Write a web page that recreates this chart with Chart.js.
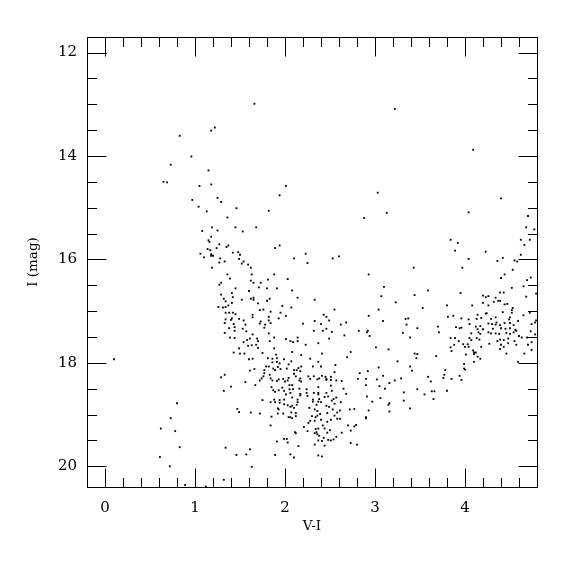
<!DOCTYPE html>
<html>
<head>
<meta charset="utf-8">
<script src="https://cdn.jsdelivr.net/npm/chart.js@4.4.0/dist/chart.umd.min.js"></script>
<style>
html, body { margin: 0; padding: 0; background: #fff; }
</style>
</head>
<body>
<canvas id="cmd" width="575" height="575"></canvas>
<script>
// [V-I, I] pairs, grouped by part of the diagram
const blueSequence = [
  [1.22,13.45],[1.18,13.51],[0.83,13.61],[0.96,14.01],[0.73,14.17],[1.15,14.28],[0.65,14.50],[0.69,14.51],[1.05,14.58],[1.18,14.55],
  [1.66,12.99],[2.01,14.58],[3.22,13.09],[4.09,13.88],
  [1.25,14.81],[1.29,14.89],[0.97,14.85],[1.04,14.98],[1.13,15.07],[1.46,15.01],[1.36,15.19],[1.08,15.45],[1.19,15.38],[1.25,15.44],
  [1.45,15.38],[1.18,15.56],[1.15,15.63],[1.16,15.66],[1.27,15.71],[1.37,15.73],[1.35,15.76],[1.24,15.78],[1.14,15.80],[1.17,15.82],
  [1.06,15.89],[1.18,15.90],[1.20,15.93],[1.10,15.96],[1.18,15.93],[1.42,15.87],[1.28,15.98],[1.27,16.06],[1.33,16.04],[1.19,16.16],
  [1.36,16.29],[1.39,16.37],[1.29,16.45],[1.27,16.49],[1.45,16.56],[1.41,16.65],[1.29,16.68],[1.32,16.76],[1.42,16.73],[1.34,16.81],
  [1.41,16.84],[1.37,16.89],[1.26,16.92],[1.31,16.93],[1.34,16.92],[1.34,17.03],[1.38,17.03],[1.42,17.03],[1.45,17.06],[1.41,17.14],
  [1.40,17.17],[1.34,17.16],[1.33,17.23],[1.43,17.25],[1.38,17.33],[1.44,17.31],[1.33,17.42],[1.44,17.38],
  [1.39,17.51],[1.44,17.52],[1.43,17.80],[0.10,17.93],[1.33,18.23],[1.29,18.28],[1.40,18.46],[1.32,18.54],[1.47,18.89],[0.80,18.78],
  [0.73,19.07],[0.62,19.27],[0.78,19.32],[0.83,19.63],[1.34,19.64],[1.46,19.78],[0.61,19.82],[0.72,20.00],[1.32,20.26],[0.89,20.36],
  [1.12,20.39]
];

const middleStars = [
  [1.94,14.76],[1.82,15.06],[3.03,14.71],[3.13,15.10],[2.88,15.20],[1.68,15.38],[1.53,15.46],[1.94,15.73],[1.89,15.78],[1.48,15.86],
  [1.50,15.91],[1.49,15.99],[1.54,16.04],[1.52,16.08],[1.59,16.10],[1.62,16.16],[2.10,15.98],[2.23,15.89],[2.25,16.07],[2.53,15.98],
  [2.60,15.94],[2.93,16.29],[1.63,16.29],[1.88,16.29],[1.62,16.41],[1.65,16.45],[1.73,16.45],[1.81,16.39],[2.03,16.38],[1.71,16.54],
  [1.80,16.56],[1.91,16.56],[2.08,16.60],[1.60,16.61],[3.10,16.53],[3.07,16.71],[2.14,16.74],[1.65,16.74],[1.52,16.78],[1.62,16.76],
  [1.65,16.78],[1.83,16.76],[1.80,16.80],[2.33,16.78],[1.70,16.85],[1.97,16.90],[2.07,16.93],[1.72,16.98],[1.76,16.97],[1.84,17.01],
  [1.95,17.03],[2.55,16.97],[3.04,16.97],[1.64,17.07],[1.64,17.12],[1.82,17.11],[2.01,17.09],[2.43,17.07],[2.46,17.11],[2.93,17.09],
  [1.49,17.15],[1.54,17.18],[1.73,17.20],[1.82,17.18],[1.93,17.14],[2.33,17.19],[2.49,17.18],[3.09,17.19],[1.56,17.26],[1.72,17.24],
  [1.78,17.26],[1.84,17.23],[2.20,17.24],[2.40,17.25],[2.68,17.22],[2.62,17.26],[1.53,17.34],[1.77,17.32],[1.57,17.39],[2.32,17.38],
  [2.42,17.38],[2.46,17.34],[2.52,17.40],[2.82,17.38],[2.92,17.38],[2.91,17.41],[1.64,17.45],[1.82,17.43],[2.66,17.47],[2.94,17.48]
];

const redBranch = [
  [4.40,14.82],[4.04,15.09],[4.70,15.16],[4.68,15.38],[4.77,15.42],[3.84,15.62],[3.92,15.68],[4.62,15.62],[4.72,15.62],[4.66,15.72],
  [3.89,15.83],[4.23,15.85],[4.62,15.91],[4.04,15.99],[4.36,16.03],[4.42,15.97],[4.55,16.02],[4.58,16.04],[3.43,16.16],[3.97,16.16],
  [4.53,16.20],[4.44,16.29],[4.40,16.36],[4.73,16.35],[4.69,16.40],[4.65,16.52],[4.52,16.55],[4.79,16.66],[4.68,16.72],[3.59,16.60],
  [3.95,16.65],[4.39,16.64],[4.43,16.64],[3.44,16.69],[4.20,16.70],[4.23,16.73],[4.26,16.71],[4.34,16.74],[3.23,16.83],[4.37,16.80],
  [4.39,16.80],[4.08,16.89],[4.20,16.84],[4.26,16.89],[4.32,16.82],[4.44,16.87],[4.47,16.86],[3.80,16.89],[3.53,16.94],[4.53,16.94],
  [4.52,16.98],[4.42,17.02],[4.52,17.03],[4.72,17.03],[4.24,17.04],[4.23,17.05],[4.14,17.07],[3.81,17.11],[3.87,17.09],[3.96,17.14],
  [3.34,17.15],[3.37,17.14],[4.04,17.16],[4.13,17.15],[4.18,17.13],[4.34,17.12],[4.29,17.15],[4.50,17.12],[4.65,17.08],[4.49,17.16],
  [4.59,17.19],[4.79,17.18],[4.05,17.25],[3.35,17.26],[3.70,17.30],[3.90,17.31],[3.94,17.33],[3.96,17.32],[4.12,17.30],[4.17,17.29],
  [4.26,17.24],[4.30,17.25],[4.35,17.22],[4.34,17.26],[4.39,17.27],[4.44,17.23],[4.50,17.23],[4.54,17.27],[4.74,17.25],[4.78,17.22],
  [3.47,17.33],[4.14,17.35],[4.20,17.35],[4.31,17.34],[4.40,17.33],[4.45,17.34],[4.50,17.33],[4.56,17.36],[4.57,17.38],[3.31,17.42],
  [3.71,17.41],[4.07,17.43],[4.15,17.41],[4.17,17.44],[4.26,17.41],[4.29,17.43],[4.34,17.43],[4.38,17.44],[4.46,17.42],[4.50,17.44],
  [4.54,17.41],[4.73,17.39],[4.78,17.45],[4.60,17.48]
];

const faintClump = [
  [1.61,17.53],[1.69,17.53],[1.88,17.51],[2.01,17.54],[2.14,17.51],[2.49,17.53],[1.58,17.56],[1.54,17.60],[1.70,17.58],[1.83,17.58],
  [2.06,17.58],[2.09,17.60],[2.14,17.58],[2.37,17.62],[1.59,17.67],[1.63,17.66],[1.68,17.65],[2.23,17.65],[1.49,17.72],[1.70,17.71],
  [1.88,17.72],[3.01,17.70],[1.50,17.82],[1.55,17.82],[1.75,17.81],[2.08,17.79],[2.73,17.79],[2.41,17.82],[1.90,17.84],[2.18,17.85],
  [2.69,17.89],[1.60,17.93],[1.64,17.92],[1.81,17.91],[1.86,17.92],[1.91,17.91],[1.99,17.93],[2.28,17.92],[1.86,17.99],[1.91,17.98],
  [2.07,17.97],[2.37,17.98],[1.94,18.01],[1.79,18.07],[1.82,18.07],[2.04,18.03],[1.92,18.08],[2.15,18.10],[2.18,18.07],[2.31,18.07],
  [2.40,18.07],[2.56,18.04],[3.04,18.09],[1.66,18.12],[1.87,18.11],[1.95,18.12],[2.02,18.11],[2.10,18.14],[2.13,18.14],[1.77,18.14],
  [1.61,18.15],[1.89,18.14],[1.77,18.20],[2.17,18.16],[2.92,18.16],[2.83,18.20],[2.55,18.18],[1.76,18.26],[1.83,18.23],[2.10,18.21],
  [2.12,18.26],[2.26,18.26],[2.32,18.26],[2.41,18.25],[2.51,18.27],[3.09,18.25],[1.74,18.30],[1.84,18.30],[1.93,18.32],[1.98,18.31],
  [2.04,18.29],[2.03,18.34],[2.17,18.30],[2.28,18.31],[2.36,18.32],[2.38,18.30],[2.45,18.27],[2.46,18.31],[2.46,18.33],[2.51,18.33],
  [2.81,18.31],[2.90,18.31],[3.02,18.32],[1.56,18.37],[1.72,18.34],[1.86,18.34],[1.91,18.35],[2.00,18.36],[2.16,18.34],[2.18,18.36],
  [2.57,18.34],[2.63,18.35],[1.67,18.43],[2.05,18.43],[2.08,18.43],[2.51,18.44],[2.90,18.43],[3.05,18.45],[1.85,18.47],[1.87,18.53],
  [1.97,18.48],[2.05,18.51],[2.09,18.51],[2.16,18.50],[2.24,18.51],[2.37,18.47],[2.65,18.50],[3.11,18.50],[1.89,18.56],[1.93,18.53],
  [1.99,18.54],[2.06,18.58],[2.17,18.60],[2.24,18.58],[2.32,18.58],[2.37,18.58],[2.46,18.58],[2.52,18.54],[2.68,18.60],[2.91,18.65],
  [2.01,18.61],[2.17,18.63],[2.25,18.64],[2.37,18.61],[2.48,18.65],[1.75,18.72],[1.88,18.71],[1.94,18.72],[1.99,18.71],[2.08,18.67],
  [2.14,18.71],[2.31,18.71],[2.38,18.70],[2.44,18.66],[2.54,18.70],[2.57,18.67],[3.06,18.68],[1.84,18.76],[1.89,18.76],[1.94,18.77],
  [2.14,18.76],[2.31,18.75],[2.37,18.75],[2.40,18.76],[2.52,18.73],[2.62,18.76],[2.97,18.75],[1.99,18.80],[2.03,18.82],[2.06,18.85],
  [2.08,18.83],[2.13,18.81],[2.35,18.81],[2.46,18.83],[2.49,18.85],[2.55,18.79],[1.92,18.88],[2.10,18.87],[2.27,18.87],[2.33,18.90],
  [2.53,18.90],[2.61,18.92],[2.72,18.90],[2.77,18.89],[2.93,18.92],[1.49,18.95],[1.62,18.96],[1.72,18.98],[1.93,18.90],[1.92,18.98],
  [1.98,18.98],[2.07,18.96],[2.12,18.97],[2.36,18.93],[2.39,18.99],[2.47,18.97],[2.58,18.96],[1.85,19.04],[2.04,19.05],[2.06,19.05],
  [2.08,19.07],[2.34,19.05],[2.36,19.02],[2.30,19.03],[2.58,19.08],[2.61,19.08],[2.55,19.02],[2.90,19.05],[2.90,19.07],[2.12,19.03],
  [2.28,19.12],[2.26,19.16],[2.40,19.10],[2.33,19.12],[2.47,19.14],[2.51,19.10],[1.84,19.21],[2.21,19.24],[2.25,19.32],[2.34,19.28],
  [2.37,19.27],[2.42,19.21],[2.44,19.27],[2.50,19.30],[2.70,19.21],[2.77,19.23],[2.79,19.20],[2.73,19.31],[2.11,19.34],[2.12,19.36],
  [2.33,19.36],[2.36,19.38],[2.38,19.41],[2.35,19.34],[2.47,19.35],[2.63,19.35],[2.57,19.43],[1.99,19.47],[2.02,19.47],[2.03,19.54],
  [1.91,19.52],[2.43,19.45],[2.48,19.49],[2.51,19.50],[2.54,19.48],[2.37,19.50],[2.41,19.51],[2.73,19.55],[2.80,19.58],[2.15,19.61],
  [2.33,19.58],[2.44,19.60],[1.61,19.67],[1.57,19.77],[1.89,19.78],[2.06,19.77],[2.10,19.83],[2.37,19.79],[2.41,19.81],[1.63,20.01]
];

const redFaint = [
  [3.39,17.51],[3.84,17.52],[3.89,17.52],[4.05,17.52],[4.07,17.56],[4.13,17.52],[4.16,17.55],[3.93,17.58],[3.88,17.65],[3.98,17.64],
  [4.03,17.64],[4.00,17.69],[4.04,17.69],[3.84,17.70],[3.85,17.77],[4.18,17.69],[4.27,17.63],[4.36,17.58],[4.39,17.55],[4.43,17.56],
  [4.48,17.53],[4.48,17.62],[4.55,17.58],[4.63,17.51],[4.69,17.51],[4.74,17.60],[4.70,17.65],[4.57,17.65],[4.40,17.65],[4.43,17.69],
  [4.39,17.73],[4.46,17.82],[4.09,17.76],[4.10,17.80],[4.12,17.80],[4.10,17.83],[4.01,17.84],[4.14,17.88],[4.17,17.92],[4.10,17.98],
  [4.74,17.75],[4.66,17.82],[4.59,17.98],[3.15,17.74],[3.44,17.82],[3.47,17.83],[3.46,17.91],[3.68,17.87],[3.25,17.97],[3.39,18.07],
  [3.41,18.15],[3.99,18.02],[3.99,18.11],[4.00,18.13],[3.78,18.14],[3.77,18.23],[3.76,18.29],[3.85,18.31],[3.94,18.25],[3.96,18.33],
  [3.59,18.27],[3.62,18.36],[3.29,18.30],[3.22,18.34],[3.16,18.39],[3.47,18.51],[3.63,18.55],[3.66,18.55],[3.55,18.61],[3.80,18.54],
  [3.32,18.57],[3.65,18.70],[3.32,18.73],[3.16,18.78],[3.15,18.81],[3.39,18.88],[3.16,18.94]
];

const xTickValues = [0, 1, 2, 3, 4];
const xMinorValues = [0.2, 0.4, 0.6, 0.8, 1.2, 1.4, 1.6, 1.8, 2.2, 2.4, 2.6, 2.8, 3.2, 3.4, 3.6, 3.8, 4.2, 4.4, 4.6];
const yTickValues = [12, 14, 16, 18, 20];
const yMinorValues = [12.5, 13, 13.5, 14.5, 15, 15.5, 16.5, 17, 17.5, 18.5, 19, 19.5];

const stars = [].concat(blueSequence, middleStars, redBranch, faintClump, redFaint)
  .map(p => ({ x: p[0], y: p[1] }));

const serif = 'DejaVu Serif';

// box round the plot with inward ticks on all four sides
const frameTicks = {
  id: 'frameTicks',
  afterDraw(chart) {
    const { ctx, chartArea: a, scales } = chart;
    const L = Math.round(a.left) + 0.5, R = Math.round(a.right) + 0.5;
    const T = Math.round(a.top) + 0.5, B = Math.round(a.bottom) + 0.5;
    ctx.save();
    ctx.strokeStyle = '#000';
    ctx.lineWidth = 1;
    ctx.strokeRect(L, T, R - L, B - T);
    ctx.beginPath();
    const xt = (v, len) => {
      const px = Math.round(scales.x.getPixelForValue(v)) + 0.5;
      ctx.moveTo(px, B); ctx.lineTo(px, B - len);
      ctx.moveTo(px, T); ctx.lineTo(px, T + len);
    };
    const yt = (v, len) => {
      const py = Math.round(scales.y.getPixelForValue(v)) + 0.5;
      ctx.moveTo(L, py); ctx.lineTo(L + len, py);
      ctx.moveTo(R, py); ctx.lineTo(R - len, py);
    };
    xTickValues.forEach(v => xt(v, 19));
    xMinorValues.forEach(v => xt(v, 9.5));
    yTickValues.forEach(v => yt(v, 19));
    yMinorValues.forEach(v => yt(v, 9.5));
    ctx.stroke();
    ctx.restore();
  }
};

const ctx = document.getElementById('cmd').getContext('2d');
new Chart(ctx, {
  type: 'scatter',
  data: {
    datasets: [{
      data: stars,
      pointStyle: 'rect',
      pointRadius: 1.3,
      borderWidth: 0,
      backgroundColor: '#000'
    }]
  },
  options: {
    responsive: false,
    animation: false,
    layout: { padding: { top: 37, right: 38, left: 0, bottom: 0 } },
    plugins: { legend: { display: false }, tooltip: { enabled: false } },
    scales: {
      x: {
        type: 'linear',
        min: -0.2,
        max: 4.8,
        grid: { display: false, drawTicks: false, tickLength: 0 },
        border: { display: false },
        afterBuildTicks: s => { s.ticks = xTickValues.map(v => ({ value: v })); },
        afterFit: s => { s.height = 88; },
        ticks: { padding: 12, color: '#000', font: { family: serif, size: 15 } },
        title: { display: true, text: 'V-I', color: '#000', font: { family: serif, size: 13.5 }, padding: { top: 0, bottom: 40 } }
      },
      y: {
        type: 'linear',
        reverse: true,
        min: 11.7,
        max: 20.4,
        grid: { display: false, drawTicks: false, tickLength: 0 },
        border: { display: false },
        afterBuildTicks: s => { s.ticks = yTickValues.map(v => ({ value: v })); },
        afterFit: s => { s.width = 87; },
        ticks: { padding: 10, color: '#000', font: { family: serif, size: 15 } },
        title: { display: true, text: 'I (mag)', color: '#000', font: { family: serif, size: 13.5 }, padding: { top: 25, bottom: 0 } }
      }
    }
  },
  plugins: [frameTicks]
});
</script>
</body>
</html>
